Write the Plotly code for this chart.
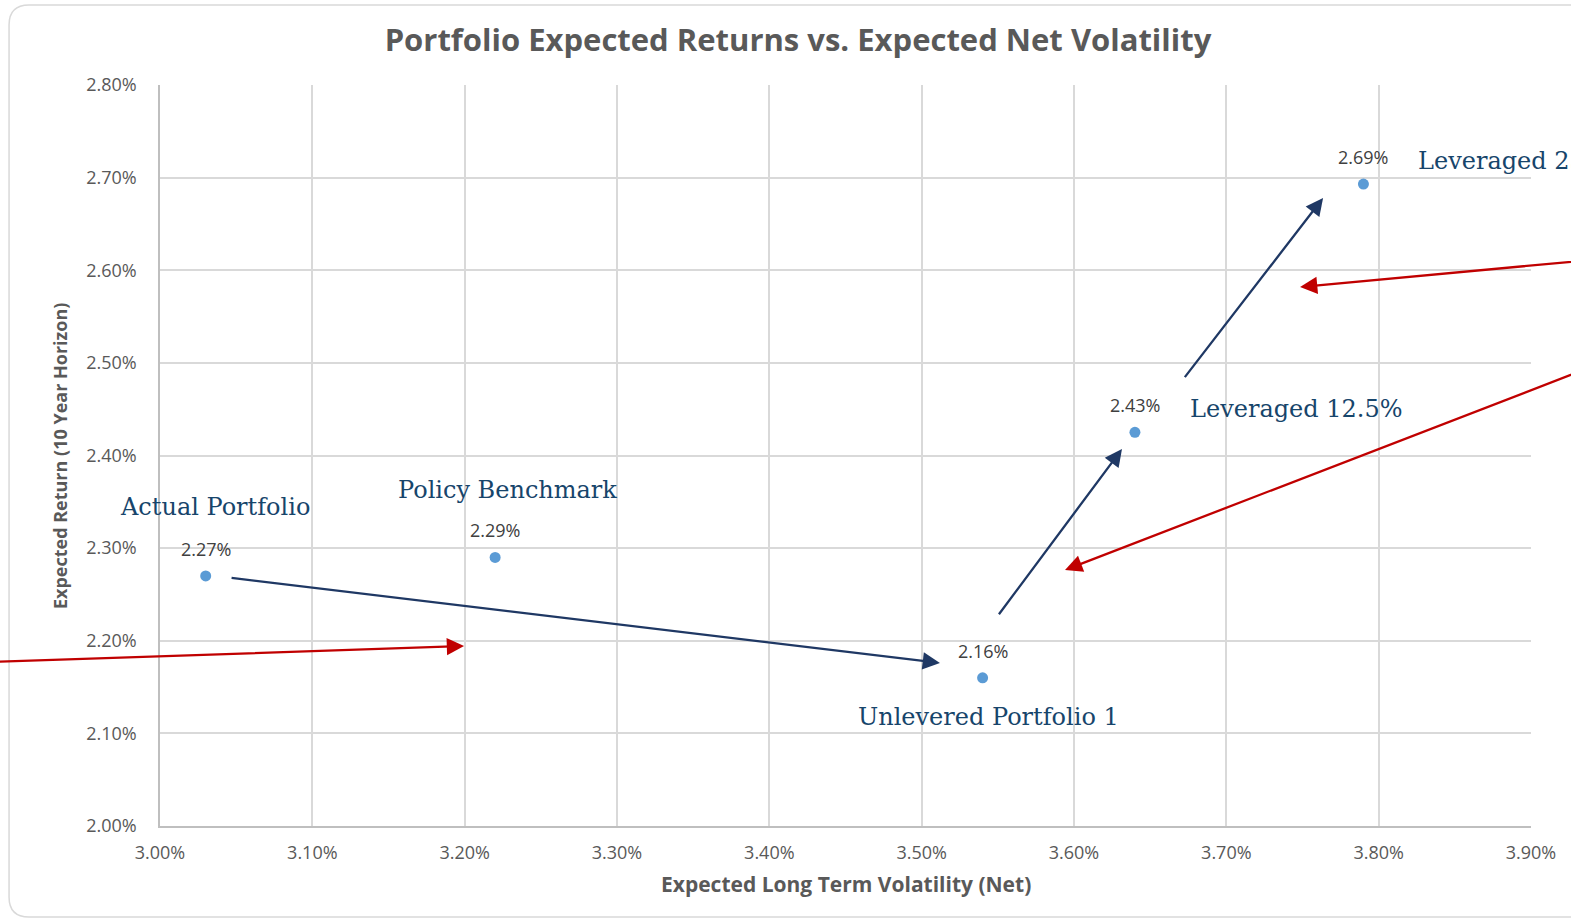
import plotly.graph_objects as go

# ---- data ----
names = ["Actual Portfolio", "Policy Benchmark", "Unlevered Portfolio 1",
         "Leveraged 12.5%", "Leveraged 25%"]
volatility = [3.03, 3.22, 3.54, 3.64, 3.79]   # Expected long term volatility (%)
returns = [2.27, 2.29, 2.16, 2.425, 2.693]     # Expected return (%)
value_labels = ["2.27%", "2.29%", "2.16%", "2.43%", "2.69%"]

# series name label positions (data units)
name_x = [3.036, 3.228, 3.544, 3.746, 3.8245]
name_y = [2.344, 2.363, 2.118, 2.450, 2.718]
name_anchor = ["center", "center", "center", "center", "left"]

# arrows: (tail_x, tail_y, head_x, head_y, colour)
arrow_tail_x = [3.046, 3.550, 3.672, 2.888, 3.945, 3.945]
arrow_tail_y = [2.268, 2.227, 2.483, 2.177, 2.612, 2.499]
arrow_head_x = [3.512, 3.6315, 3.7635, 3.1996, 3.7484, 3.5941]
arrow_head_y = [2.176, 2.407, 2.678, 2.1943, 2.5819, 2.2764]
arrow_color = ["#1F3864", "#1F3864", "#1F3864", "#C00000", "#C00000", "#C00000"]

x_ticks = [3.0 + 0.1 * i for i in range(10)]
y_ticks = [2.0 + 0.1 * i for i in range(9)]
x_ticktext = [f"{v:.2f}%" for v in x_ticks]
y_ticktext = [f"{v:.2f}%" for v in y_ticks]

fig = go.Figure()
fig.add_trace(go.Scatter(
    x=volatility, y=returns, mode="markers",
    marker=dict(size=11, color="#5B9BD5"),
    hoverinfo="skip", showlegend=False))

ann = []
for xv, yv, t in zip(volatility, returns, value_labels):
    ann.append(dict(x=xv, y=yv, xref="x", yref="y", text=t, showarrow=False,
                    yshift=27, font=dict(family="Open Sans", size=18, color="#404040")))
for t, xv, yv, a in zip(names, name_x, name_y, name_anchor):
    ann.append(dict(x=xv, y=yv, xref="x", yref="y", text=t, showarrow=False,
                    xanchor=a, yanchor="middle",
                    font=dict(family="DejaVu Serif", size=24, color="#17456B")))
for tx, ty, hx, hy, c in zip(arrow_tail_x, arrow_tail_y, arrow_head_x, arrow_head_y, arrow_color):
    ann.append(dict(x=hx, y=hy, ax=tx, ay=ty, xref="x", yref="y", axref="x", ayref="y",
                    text="", showarrow=True, arrowhead=2, arrowsize=1.5, arrowwidth=2.3,
                    arrowcolor=c, standoff=0, startstandoff=0))
# axis titles
ann.append(dict(x=0.5004, y=-0.0783, xref="paper", yref="paper", showarrow=False,
                text="<b>Expected Long Term Volatility (Net)</b>", yanchor="middle",
                font=dict(family="Open Sans", size=21, color="#595959")))
ann.append(dict(x=-0.0729, y=0.4993, xref="paper", yref="paper", showarrow=False,
                text="<b>Expected Return (10 Year Horizon)</b>", textangle=-90,
                xanchor="center", yanchor="middle",
                font=dict(family="Open Sans", size=18, color="#595959")))

# rounded outer frame (paper coords)
x0, x1, y0, y1 = -0.1101, 1.06, -0.1228, 1.108
rx, ry = 0.0146, 0.027
path = (f"M {x0+rx},{y1} L {x1},{y1} M {x0+rx},{y1} Q {x0},{y1} {x0},{y1-ry} "
        f"L {x0},{y0+ry} Q {x0},{y0} {x0+rx},{y0} L {x1},{y0}")

fig.update_layout(
    width=1571, height=921,
    margin=dict(l=160, r=40, t=85, b=95),
    paper_bgcolor="white", plot_bgcolor="white",
    title=dict(text="<b>Portfolio Expected Returns vs. Expected Net Volatility</b>",
               x=798 / 1571, xanchor="center", y=1 - 40 / 921, yanchor="middle",
               font=dict(family="Open Sans", size=31, color="#595959")),
    annotations=ann,
    shapes=[dict(type="path", path=path, xref="paper", yref="paper",
                 line=dict(color="#D9D9D9", width=1.5), layer="below")],
    xaxis=dict(range=[3.0, 3.9], tickvals=x_ticks, ticktext=x_ticktext,
               showgrid=True, gridcolor="#D9D9D9", gridwidth=1.5, zeroline=False,
               showline=True, linecolor="#BFBFBF", linewidth=1.5,
               ticks="", ticklabelstandoff=10,
               tickfont=dict(family="Open Sans", size=18, color="#595959")),
    yaxis=dict(range=[2.0, 2.8], tickvals=y_ticks, ticktext=y_ticktext,
               showgrid=True, gridcolor="#D9D9D9", gridwidth=1.5, zeroline=False,
               showline=True, linecolor="#BFBFBF", linewidth=1.5,
               ticks="", ticklabelstandoff=18,
               tickfont=dict(family="Open Sans", size=18, color="#595959")),
)

fig.write_html("out.html", config={"displayModeBar": False},
               post_script="document.body.style.margin='0';document.body.style.overflow='hidden';")
